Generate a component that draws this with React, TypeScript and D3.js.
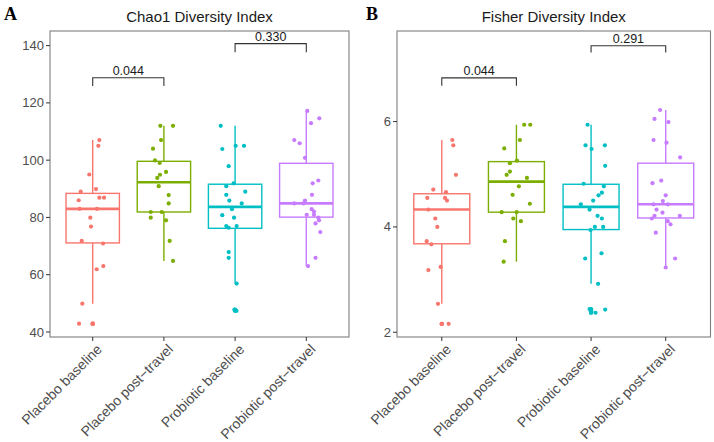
import React from "react";
import * as d3 from "d3";

// Group labels (ggplot-style minus sign in "post−travel")
const categories = [
  "Placebo baseline",
  "Placebo post−travel",
  "Probiotic baseline",
  "Probiotic post−travel",
];
const groupColors = ["#F8766D", "#7CAE00", "#00BFC4", "#C77CFF"];

// Chao1 per-sample values, one array per group
const chao1Values = [
  [107.0, 105.0, 95.0, 89.9, 89.0, 86.9, 86.9, 86.0, 83.0, 83.0, 79.9, 76.8, 71.8, 70.9, 63.0, 61.9, 49.9, 42.9, 42.9],
  [112.0, 112.0, 107.0, 104.0, 99.9, 99.0, 95.9, 94.9, 93.8, 90.9, 87.8, 84.9, 81.9, 81.9, 79.9, 79.0, 71.8, 64.8],
  [112.0, 103.9, 105.0, 105.0, 97.9, 91.9, 90.9, 89.0, 87.9, 85.9, 84.9, 82.9, 80.8, 79.9, 77.0, 76.4, 77.0, 67.9, 65.9, 56.9, 47.8, 47.4],
  [117.2, 114.6, 112.9, 107.0, 105.9, 100.8, 91.9, 92.9, 87.9, 85.9, 84.9, 84.9, 82.9, 82.0, 80.9, 80.9, 79.9, 79.0, 77.9, 74.9, 65.9, 63.0],
];
// Horizontal jitter of each Chao1 sample, in category units
const chao1Jitter = [
  [0.093, 0.079, -0.048, 0.046, -0.169, 0.093, 0.159, -0.197, -0.183, 0.06, -0.034, -0.024, -0.154, 0.145, 0.149, 0.056, -0.146, -0.192, 0.0],
  [-0.05, 0.128, -0.04, -0.153, -0.125, -0.059, 0.03, -0.055, -0.093, -0.073, 0.067, 0.067, -0.185, -0.031, -0.185, 0.03, 0.081, 0.128],
  [-0.202, -0.18, 0.008, 0.125, -0.09, -0.02, -0.124, 0.143, -0.124, -0.081, 0.093, -0.044, -0.18, -0.015, -0.124, -0.09, 0.022, -0.09, -0.09, 0.022, -0.01, 0.02],
  [0.014, 0.183, 0.066, -0.169, -0.093, -0.018, 0.09, 0.169, 0.08, -0.018, -0.169, -0.04, 0.076, 0.108, 0.006, 0.108, 0.169, 0.179, 0.13, 0.197, 0.13, 0.024],
];
// Chao1 box summaries: lower whisker, Q1, median, Q3, upper whisker
const chao1Lower = [49.9, 64.8, 56.9, 63.0];
const chao1Q1 = [71.1, 81.9, 76.2, 80.1];
const chao1Median = [83.0, 92.3, 83.7, 84.9];
const chao1Q3 = [88.4, 99.6, 91.6, 98.9];
const chao1Upper = [107.0, 112.0, 112.0, 117.2];

// Fisher per-sample values
const fisherValues = [
  [5.65, 5.55, 4.99, 4.71, 4.66, 4.55, 4.55, 4.5, 4.33, 4.16, 4.0, 3.73, 3.67, 3.24, 3.18, 2.54, 2.16, 2.16],
  [5.94, 5.94, 5.65, 5.49, 5.21, 5.26, 5.05, 4.99, 4.93, 4.77, 4.61, 4.44, 4.28, 4.28, 4.16, 4.11, 3.73, 3.34],
  [5.94, 5.55, 5.48, 5.55, 5.16, 4.82, 4.77, 4.65, 4.6, 4.5, 4.43, 4.33, 4.21, 4.16, 4.0, 4.0, 3.94, 3.5, 3.4, 2.92, 2.44, 2.4, 2.37, 2.43],
  [6.22, 6.05, 5.99, 5.65, 5.6, 5.32, 4.83, 4.88, 4.6, 4.49, 4.43, 4.43, 4.33, 4.27, 4.16, 4.21, 4.21, 4.11, 4.05, 3.89, 3.4, 3.23],
];
const fisherJitter = [
  [0.141, 0.154, 0.19, -0.114, 0.056, -0.194, 0.043, 0.07, -0.18, -0.087, -0.06, -0.202, -0.14, -0.015, -0.18, -0.051, 0.0, 0.092],
  [0.104, 0.185, 0.047, -0.163, -0.087, 0.007, -0.087, -0.131, 0.141, 0.033, -0.051, 0.18, -0.198, 0.003, -0.042, 0.06, -0.154, -0.171],
  [-0.047, -0.074, 0.007, 0.185, 0.189, -0.1, 0.171, 0.145, 0.1, 0.028, -0.137, -0.02, 0.087, 0.145, 0.051, 0.162, -0.007, 0.14, -0.079, 0.094, -0.02, 0.0, 0.06, 0.189],
  [-0.075, -0.15, 0.037, -0.163, 0.01, 0.193, -0.177, -0.06, 0.0, -0.038, -0.163, 0.028, -0.123, -0.043, -0.186, -0.15, 0.189, 0.028, 0.064, -0.133, 0.126, 0.0],
];
const fisherLower = [2.54, 3.34, 2.92, 3.23];
const fisherQ1 = [3.68, 4.28, 3.95, 4.17];
const fisherMedian = [4.33, 4.86, 4.38, 4.43];
const fisherQ3 = [4.63, 5.24, 4.81, 5.21];
const fisherUpper = [5.65, 5.94, 5.94, 6.22];

// Tick values
const chao1Ticks = [40, 60, 80, 100, 120, 140];
const fisherTicks = [2, 4, 6];

// Pairwise comparison p-values: bracket between two groups
const chao1Pairs = [
  { from: 1, to: 2, level: 128.8, tip: 125.9, label: "0.044" },
  { from: 3, to: 4, level: 140.7, tip: 137.7, label: "0.330" },
];
const fisherPairs = [
  { from: 1, to: 2, level: 6.83, tip: 6.68, label: "0.044" },
  { from: 3, to: 4, level: 7.44, tip: 7.31, label: "0.291" },
];

const FONT = "'Liberation Sans', Arial, Helvetica, sans-serif";

type PanelProps = {
  tag: string;
  tagX: number;
  title: string;
  left: number;
  right: number;
  top: number;
  bottom: number;
  yDomain: [number, number];
  ticks: number[];
  values: number[][];
  jitter: number[][];
  lower: number[];
  q1: number[];
  median: number[];
  q3: number[];
  upper: number[];
  pairs: { from: number; to: number; level: number; tip: number; label: string }[];
};

function Panel(p: PanelProps) {
  const x = d3.scaleLinear().domain([0.4, 4.6]).range([p.left, p.right]);
  const y = d3.scaleLinear().domain(p.yDomain).range([p.bottom, p.top]);
  const halfBox = 0.375;
  const cx = (p.left + p.right) / 2;

  return (
    <g>
      <text x={p.tagX} y={19.5} fontFamily="'Liberation Serif', 'Times New Roman', serif" fontWeight="bold" fontSize={18} fill="#000">
        {p.tag}
      </text>
      <text x={cx} y={21.5} textAnchor="middle" fontFamily={FONT} fontSize={15} fill="#1a1a1a">
        {p.title}
      </text>

      {/* boxes, whiskers and outliers */}
      {categories.map((_, i) => {
        const c = i + 1;
        const col = groupColors[i];
        const outliers = p.values[i].filter((v) => v < p.lower[i] || v > p.upper[i]);
        return (
          <g key={"box" + i}>
            <line x1={x(c)} x2={x(c)} y1={y(p.q3[i])} y2={y(p.upper[i])} stroke={col} strokeWidth={1.4} />
            <line x1={x(c)} x2={x(c)} y1={y(p.q1[i])} y2={y(p.lower[i])} stroke={col} strokeWidth={1.4} />
            <rect
              x={x(c - halfBox)}
              width={x(c + halfBox) - x(c - halfBox)}
              y={y(p.q3[i])}
              height={y(p.q1[i]) - y(p.q3[i])}
              fill="white"
              stroke={col}
              strokeWidth={1.4}
            />
            <line x1={x(c - halfBox)} x2={x(c + halfBox)} y1={y(p.median[i])} y2={y(p.median[i])} stroke={col} strokeWidth={2.6} />
            {outliers.map((v, k) => (
              <circle key={k} cx={x(c)} cy={y(v)} r={2.2} fill={col} />
            ))}
          </g>
        );
      })}

      {/* jittered samples */}
      {categories.map((_, i) => (
        <g key={"pts" + i}>
          {p.values[i].map((v, k) => (
            <circle key={k} cx={x(i + 1 + p.jitter[i][k])} cy={y(v)} r={2.1} fill={groupColors[i]} />
          ))}
        </g>
      ))}

      {/* comparison brackets */}
      {p.pairs.map((b, k) => (
        <g key={"pair" + k}>
          <path
            d={`M${x(b.from)},${y(b.tip)}V${y(b.level)}H${x(b.to)}V${y(b.tip)}`}
            fill="none"
            stroke="#333"
            strokeWidth={1.1}
          />
          <text x={(x(b.from) + x(b.to)) / 2} y={y(b.level) - 3} textAnchor="middle" fontFamily={FONT} fontSize={12.5} fill="#1a1a1a">
            {b.label}
          </text>
        </g>
      ))}

      {/* panel border */}
      <rect x={p.left} y={p.top} width={p.right - p.left} height={p.bottom - p.top} fill="none" stroke="#7f7f7f" strokeWidth={1.1} />

      {/* y axis */}
      {p.ticks.map((t) => (
        <g key={"yt" + t}>
          <line x1={p.left - 4} x2={p.left} y1={y(t)} y2={y(t)} stroke="#333" strokeWidth={1} />
          <text x={p.left - 6} y={y(t)} dy="0.35em" textAnchor="end" fontFamily={FONT} fontSize={13} fill="#4d4d4d">
            {t}
          </text>
        </g>
      ))}

      {/* x axis */}
      {categories.map((name, i) => (
        <g key={"xt" + i}>
          <line x1={x(i + 1)} x2={x(i + 1)} y1={p.bottom} y2={p.bottom + 4} stroke="#333" strokeWidth={1} />
          <text
            transform={`translate(${x(i + 1) + 3},${p.bottom + 6}) rotate(-45)`}
            dy="0.72em"
            textAnchor="end"
            fontFamily={FONT}
            fontSize={14}
            fill="#4d4d4d"
          >
            {name}
          </text>
        </g>
      ))}
    </g>
  );
}

export default function App() {
  return (
    <svg width={714} height={442} style={{ position: "absolute", left: 0, top: 0, background: "#fff" }}>
      <rect width={714} height={442} fill="#fff" />
      <Panel
        tag="A"
        tagX={4}
        title="Chao1 Diversity Index"
        left={50}
        right={349}
        top={31}
        bottom={337}
        yDomain={[38.25, 145.1]}
        ticks={chao1Ticks}
        values={chao1Values}
        jitter={chao1Jitter}
        lower={chao1Lower}
        q1={chao1Q1}
        median={chao1Median}
        q3={chao1Q3}
        upper={chao1Upper}
        pairs={chao1Pairs}
      />
      <Panel
        tag="B"
        tagX={366}
        title="Fisher Diversity Index"
        left={397}
        right={710.5}
        top={31}
        bottom={337}
        yDomain={[1.91, 7.72]}
        ticks={fisherTicks}
        values={fisherValues}
        jitter={fisherJitter}
        lower={fisherLower}
        q1={fisherQ1}
        median={fisherMedian}
        q3={fisherQ3}
        upper={fisherUpper}
        pairs={fisherPairs}
      />
    </svg>
  );
}
